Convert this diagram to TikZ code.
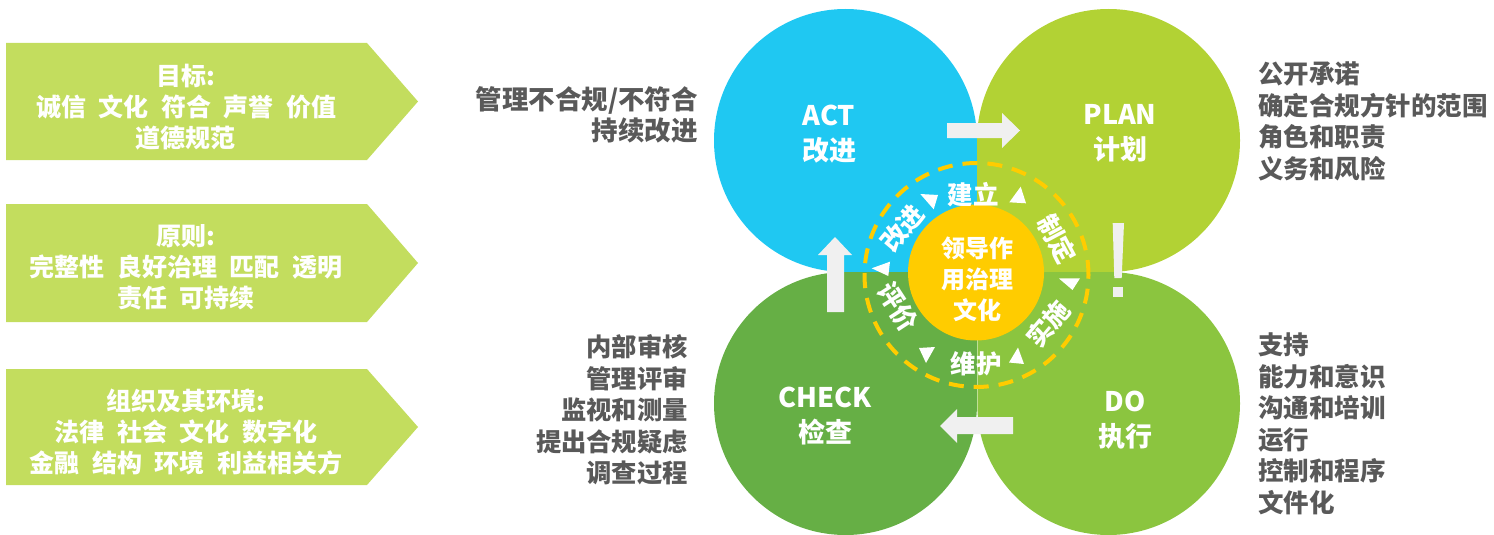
\documentclass[tikz,border=0pt]{standalone}
\usepackage{fontspec}
\setmainfont{Noto Sans CJK SC}
\definecolor{actc}{RGB}{31,200,242}
\definecolor{planc}{RGB}{178,210,52}
\definecolor{checkc}{RGB}{102,175,69}
\definecolor{doc}{RGB}{139,197,63}
\definecolor{corec}{RGB}{255,204,0}
\definecolor{arrowc}{RGB}{240,240,240}
\definecolor{panelc}{RGB}{195,221,94}
\definecolor{txtgray}{RGB}{89,89,89}
\newcommand\wg{\hspace{0.5em}}
\tikzset{
  lbl/.style={font=\bfseries\fontsize{25.5}{31.5}\selectfont, text=txtgray, inner sep=0pt},
  pan/.style={font=\bfseries\fontsize{25}{31}\selectfont, text=white, align=center, inner sep=0pt},
  big/.style={font=\bfseries\fontsize{27}{35}\selectfont, text=white, align=center, inner sep=0pt},
  core/.style={font=\bfseries\fontsize{24}{31}\selectfont, text=white, align=center, inner sep=0pt},
  ring/.style={font=\bfseries\fontsize{25.5}{28}\selectfont, text=white, inner sep=0pt},
  wtri/.style={fill=white},
  bigarrow/.style={fill=arrowc},
  panelshape/.style={fill=panelc},
}
\begin{document}
\begin{tikzpicture}[x=1pt,y=-1pt]
\useasboundingbox (0,0) rectangle (1494,535);

% left panels
\fill[panelshape] (6,43) -- (367,43) -- (418,101.5) -- (367,160) -- (6,160) -- cycle;
\fill[panelshape] (6,204) -- (367,204) -- (418,263) -- (367,322) -- (6,322) -- cycle;
\fill[panelshape] (6,369) -- (367,369) -- (418,427) -- (367,485) -- (6,485) -- cycle;
\node[pan] (p1) at (186,107.5) {目标:\\诚信\wg 文化\wg 符合\wg 声誉\wg 价值\\道德规范};
\node[pan] (p2) at (186,267) {原则:\\完整性\wg 良好治理\wg 匹配\wg 透明\\责任\wg 可持续};
\node[pan] (p3) at (186,432) {组织及其环境:\\法律\wg 社会\wg 文化\wg 数字化\\金融\wg 结构\wg 环境\wg 利益相关方};

% petals
\fill[actc] (845.5,140.5) circle[radius=131.5pt];
\fill[actc] (845.5,140.5) rectangle (977,272);
\fill[planc] (1108.5,140.5) circle[radius=131.5pt];
\fill[planc] (977,140.5) rectangle (1108.5,272);
\fill[checkc] (845.5,403.5) circle[radius=131.5pt];
\fill[checkc] (845.5,272) rectangle (977,403.5);
\fill[doc] (1108.5,403.5) circle[radius=131.5pt];
\fill[doc] (977,272) rectangle (1108.5,403.5);
\draw[white, opacity=0.45, line width=0.8pt] (977,272) -- (977,535);

% big arrows
\fill[bigarrow] (947,123) -- (1002,123) -- (1002,113) -- (1020,130.5) -- (1002,148) -- (1002,138) -- (947,138) -- cycle;
\fill[bigarrow] (1013,417) -- (957,417) -- (957,409) -- (940,426) -- (957,443) -- (957,434) -- (1013,434) -- cycle;
\fill[bigarrow] (827,312) -- (827,255) -- (818,255) -- (835,237) -- (852,255) -- (844,255) -- (844,312) -- cycle;
\fill[bigarrow] (1112.7,223) -- (1124,223) -- (1121.7,278) -- (1114.3,278) -- cycle;
\fill[bigarrow] (1112.5,287.3) rectangle (1123.3,296.7);

% dashed ring and core
\draw[corec, line width=4pt, dash pattern=on 15pt off 10pt] (976.5,275) circle[radius=112pt];
\fill[corec] (976,272.5) circle[radius=68pt];
\node[core] (core) at (977,279) {领导作\\用治理\\文化};

% ring labels
\node[ring] (r1) at (973,195) {建立};
\node[ring, rotate=-62] (r2) at (1057,239) {制定};
\node[ring, rotate=50] (r3) at (1048,324) {实施};
\node[ring] (r4) at (976,364) {维护};
\node[ring, rotate=-57] (r5) at (898,307) {评价};
\node[ring, rotate=50] (r6) at (902,228) {改进};

% ring triangles
\fill[wtri] (920.3,194) -- (938,195) -- (933.7,209.3) -- cycle;
\fill[wtri] (1020.7,186.7) -- (1026,203.3) -- (1009.3,202.3) -- cycle;
\fill[wtri] (1059,278.5) -- (1080,278.3) -- (1072.5,290) -- cycle;
\fill[wtri] (1018,347.5) -- (1024,364) -- (1009,362.5) -- cycle;
\fill[wtri] (919,348) -- (935,347) -- (926,363) -- cycle;
\fill[wtri] (871.7,268.3) -- (890,261.7) -- (888.3,276) -- cycle;

% circle titles
\node[big] (act) at (829,134) {ACT\\改进};
\node[big] (plan) at (1120,133) {PLAN\\计划};
\node[big] (check) at (825,416) {CHECK\\检查};
\node[big] (do) at (1125,420) {DO\\执行};

% side texts
\node[lbl, align=left, anchor=west] (tplan) at (1258,121.5) {公开承诺\\确定合规方针的范围\\角色和职责\\义务和风险};
\node[lbl, align=left, anchor=west] (tdo) at (1258,424) {支持\\能力和意识\\沟通和培训\\运行\\控制和程序\\文件化};
\node[lbl, font=\bfseries\fontsize{26.5}{31}\selectfont, align=right, anchor=east] (tact) at (698,115) {管理不合规/不符合\\持续改进};
\node[lbl, font=\bfseries\fontsize{25.3}{31.5}\selectfont, align=right, anchor=east] (tcheck) at (688,410) {内部审核\\管理评审\\监视和测量\\提出合规疑虑\\调查过程};
\end{tikzpicture}
\end{document}
